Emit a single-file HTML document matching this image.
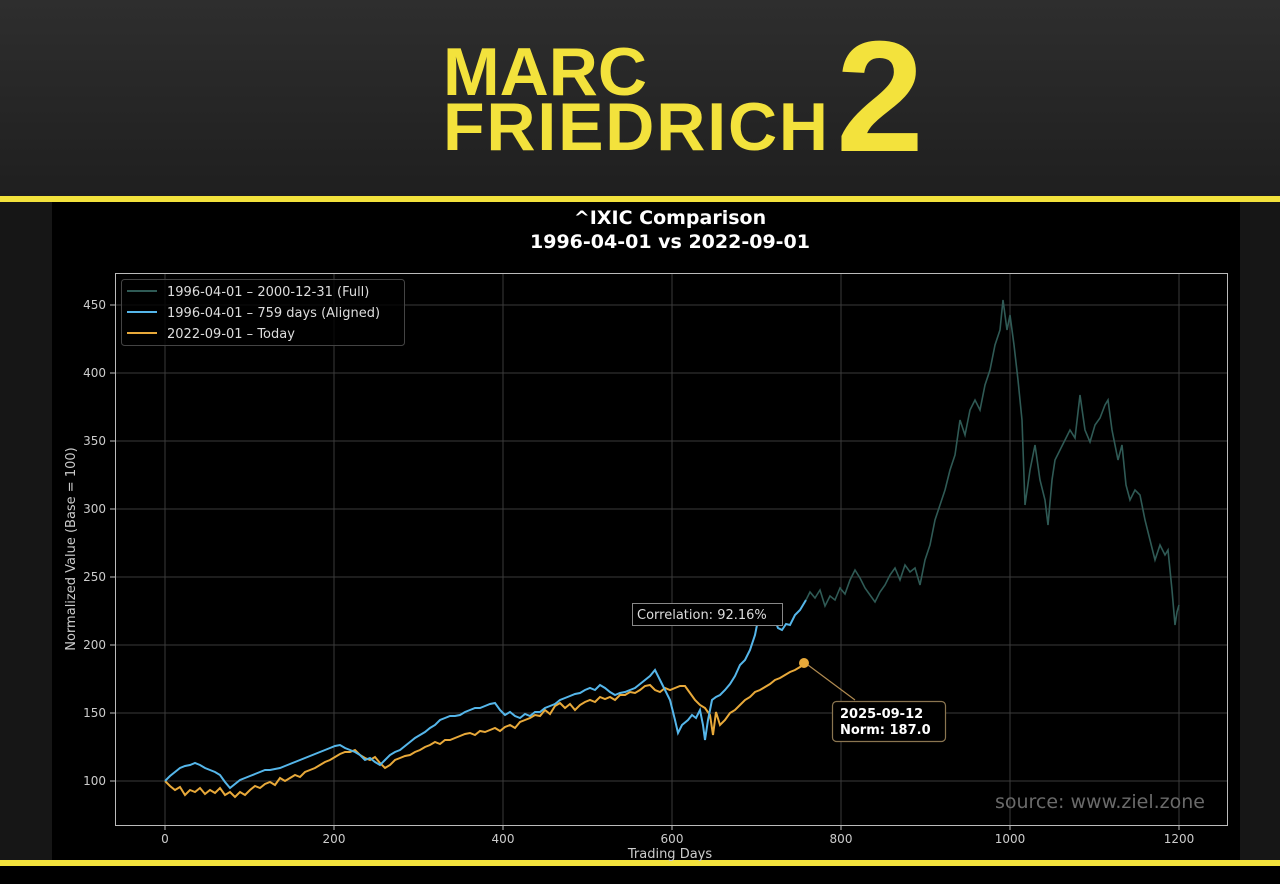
<!DOCTYPE html>
<html><head><meta charset="utf-8"><style>
html,body{margin:0;padding:0;width:1280px;height:884px;overflow:hidden;background:#000}
</style></head><body>
<svg width="1280" height="884" xmlns="http://www.w3.org/2000/svg" font-family="'DejaVu Sans','Liberation Sans',sans-serif">
<defs><linearGradient id="hg" x1="0" y1="0" x2="0" y2="1"><stop offset="0" stop-color="#2e2e2e"/><stop offset="1" stop-color="#1f1f1f"/></linearGradient></defs>
<rect x="0" y="0" width="1280" height="197" fill="url(#hg)"/>
<text x="443" y="95" font-family="'Liberation Sans',sans-serif" font-weight="bold" font-size="68" fill="#f3e23c">MARC</text>
<text x="443" y="150" font-family="'Liberation Sans',sans-serif" font-weight="bold" font-size="68" fill="#f3e23c" textLength="385">FRIEDRICH</text>
<text x="836" y="151" font-family="'Liberation Sans',sans-serif" font-weight="bold" font-size="158" fill="#f3e23c">2</text>
<rect x="0" y="196" width="1280" height="6" fill="#f3e23c"/>
<rect x="0" y="202" width="1280" height="658" fill="#161616"/>
<rect x="52" y="202" width="1188" height="658" fill="#000"/>
<rect x="0" y="860" width="1280" height="6" fill="#f3e23c"/>
<rect x="0" y="866" width="1280" height="18" fill="#000"/>
<text x="670" y="224" text-anchor="middle" font-weight="bold" font-size="19" fill="#fff">^IXIC Comparison</text>
<text x="670" y="248" text-anchor="middle" font-weight="bold" font-size="19" fill="#fff">1996-04-01 vs 2022-09-01</text>
<g stroke="#3a3a3a" stroke-width="1">
<line x1="165" y1="273" x2="165" y2="825"/><line x1="334" y1="273" x2="334" y2="825"/><line x1="503" y1="273" x2="503" y2="825"/><line x1="672" y1="273" x2="672" y2="825"/><line x1="841" y1="273" x2="841" y2="825"/><line x1="1010" y1="273" x2="1010" y2="825"/><line x1="1179" y1="273" x2="1179" y2="825"/>
<line x1="115" y1="781" x2="1227" y2="781"/><line x1="115" y1="713" x2="1227" y2="713"/><line x1="115" y1="645" x2="1227" y2="645"/><line x1="115" y1="577" x2="1227" y2="577"/><line x1="115" y1="509" x2="1227" y2="509"/><line x1="115" y1="441" x2="1227" y2="441"/><line x1="115" y1="373" x2="1227" y2="373"/><line x1="115" y1="305" x2="1227" y2="305"/>
</g>
<g stroke="#bbb" stroke-width="1">
<line x1="110" y1="781" x2="115" y2="781"/><line x1="110" y1="713" x2="115" y2="713"/><line x1="110" y1="645" x2="115" y2="645"/><line x1="110" y1="577" x2="115" y2="577"/><line x1="110" y1="509" x2="115" y2="509"/><line x1="110" y1="441" x2="115" y2="441"/><line x1="110" y1="373" x2="115" y2="373"/><line x1="110" y1="305" x2="115" y2="305"/>
<line x1="165" y1="825" x2="165" y2="830"/><line x1="334" y1="825" x2="334" y2="830"/><line x1="503" y1="825" x2="503" y2="830"/><line x1="672" y1="825" x2="672" y2="830"/><line x1="841" y1="825" x2="841" y2="830"/><line x1="1010" y1="825" x2="1010" y2="830"/><line x1="1179" y1="825" x2="1179" y2="830"/>
</g>
<rect x="115.5" y="273.5" width="1112" height="552" fill="none" stroke="#bbb" stroke-width="1"/>
<g font-size="12" fill="#ccc" text-anchor="middle">
<text x="165" y="843">0</text><text x="334" y="843">200</text><text x="503" y="843">400</text><text x="672" y="843">600</text><text x="841" y="843">800</text><text x="1010" y="843">1000</text><text x="1179" y="843">1200</text>
</g>
<g font-size="12" fill="#ccc" text-anchor="end">
<text x="106" y="785">100</text><text x="106" y="717">150</text><text x="106" y="649">200</text><text x="106" y="581">250</text><text x="106" y="513">300</text><text x="106" y="445">350</text><text x="106" y="377">400</text><text x="106" y="309">450</text>
</g>
<text x="670" y="858" text-anchor="middle" font-size="13" fill="#ccc">Trading Days</text>
<text transform="translate(75,549) rotate(-90)" text-anchor="middle" font-size="13" fill="#ccc">Normalized Value (Base = 100)</text>
<polyline fill="none" stroke="#2f5a55" stroke-width="1.6" points="806,600 810,592 815,598 820,590 825,606 830,596 835,600 840,588 845,594 850,580 855,570 860,578 865,588 870,595 875,602 880,592 885,585 890,575 895,568 900,580 905,565 910,572 915,568 920,585 925,560 930,545 935,520 940,505 945,490 950,470 955,455 960,420 965,435 970,410 975,400 980,410 985,385 990,370 995,345 1000,330 1003,300 1007,330 1010,315 1014,345 1018,380 1022,420 1025,505 1030,470 1035,445 1040,480 1045,500 1048,525 1052,480 1055,460 1060,450 1065,440 1070,430 1075,438 1080,395 1085,430 1090,442 1095,425 1100,418 1105,405 1108,400 1112,430 1118,460 1122,445 1126,485 1130,500 1135,490 1140,495 1145,520 1150,540 1155,560 1160,545 1165,555 1168,550 1172,590 1175,625 1177,612 1179,605"/>
<polyline fill="none" stroke="#e8a93a" stroke-width="2" points="165,781 170,786 175,790 180,787 185,795 190,790 195,792 200,788 205,794 210,790 215,793 220,788 225,795 230,792 235,797 240,792 245,795 250,790 255,786 260,788 265,784 270,782 275,785 280,778 285,781 290,778 295,775 300,777 305,772 310,770 315,768 320,765 325,762 330,760 335,757 340,754 345,752 350,752 355,750 360,755 365,758 370,760 375,757 380,763 385,768 390,765 395,760 400,758 405,756 410,755 415,752 420,750 425,747 430,745 435,742 440,744 445,740 450,740 455,738 460,736 465,734 470,733 475,735 480,731 485,732 490,730 495,728 500,731 505,727 510,725 515,728 520,722 525,720 530,718 535,715 540,716 545,710 550,714 555,706 560,703 565,708 570,704 575,710 580,705 585,702 590,700 595,702 600,697 605,699 610,697 615,700 620,695 625,695 630,692 635,693 640,690 645,686 650,685 655,690 660,692 665,688 670,690 675,688 680,686 685,686 690,693 695,700 700,705 705,708 710,715 713,735 716,712 720,725 725,720 730,713 735,710 740,705 745,700 750,697 755,692 760,690 765,687 770,684 775,680 780,678 785,675 790,672 795,670 800,667 805,663"/>
<polyline fill="none" stroke="#55b6ea" stroke-width="2" points="165,781 170,776 175,772 180,768 185,766 190,765 195,763 200,765 205,768 210,770 215,772 220,775 225,782 230,788 235,784 240,780 245,778 250,776 255,774 260,772 265,770 270,770 275,769 280,768 285,766 290,764 295,762 300,760 305,758 310,756 315,754 320,752 325,750 330,748 335,746 340,745 345,748 350,750 355,752 360,755 365,760 370,758 375,762 380,765 385,760 390,755 395,752 400,750 405,746 410,742 415,738 420,735 425,732 430,728 435,725 440,720 445,718 450,716 455,716 460,715 465,712 470,710 475,708 480,708 485,706 490,704 495,703 500,710 505,715 510,712 515,716 520,718 525,714 530,716 535,712 540,712 545,708 550,706 555,704 560,700 565,698 570,696 575,694 580,693 585,690 590,688 595,690 600,685 605,688 610,692 615,695 620,693 625,692 630,690 635,688 640,684 645,680 650,676 655,670 660,680 665,690 670,700 675,720 678,733 682,725 688,720 692,715 696,718 700,710 703,725 705,740 708,720 712,700 716,697 720,695 725,690 730,684 735,676 740,665 745,660 750,650 755,635 758,620 762,615 766,620 770,612 774,618 778,628 782,630 786,624 790,625 795,615 800,610 806,600"/>
<circle cx="804" cy="663" r="5" fill="#e8a93a"/>
<line x1="808" y1="665" x2="855" y2="700" stroke="#b08a50" stroke-width="1.2"/>
<rect x="832.5" y="701.5" width="113" height="40" rx="4" fill="#000" stroke="#8a7550" stroke-width="1.2"/>
<text x="840" y="718" font-weight="bold" font-size="13" fill="#fff">2025-09-12</text>
<text x="840" y="734" font-weight="bold" font-size="13" fill="#fff">Norm: 187.0</text>
<rect x="632.5" y="603.5" width="150" height="22" fill="#000" stroke="#888" stroke-width="1"/>
<text x="637" y="619" font-size="13" fill="#ddd">Correlation: 92.16%</text>
<text x="1205" y="808" text-anchor="end" font-size="19" fill="#6a6a6a">source: www.ziel.zone</text>
<rect x="121.5" y="279.5" width="283" height="66" rx="3" fill="#000" fill-opacity="0.8" stroke="#444" stroke-width="1"/>
<line x1="127" y1="291" x2="157" y2="291" stroke="#2f5a55" stroke-width="2"/>
<line x1="127" y1="312" x2="157" y2="312" stroke="#55b6ea" stroke-width="2"/>
<line x1="127" y1="333" x2="157" y2="333" stroke="#e8a93a" stroke-width="2"/>
<g font-size="13" fill="#ddd">
<text x="167" y="296">1996-04-01 – 2000-12-31 (Full)</text>
<text x="167" y="317">1996-04-01 – 759 days (Aligned)</text>
<text x="167" y="338">2022-09-01 – Today</text>
</g>
</svg>
</body></html>
